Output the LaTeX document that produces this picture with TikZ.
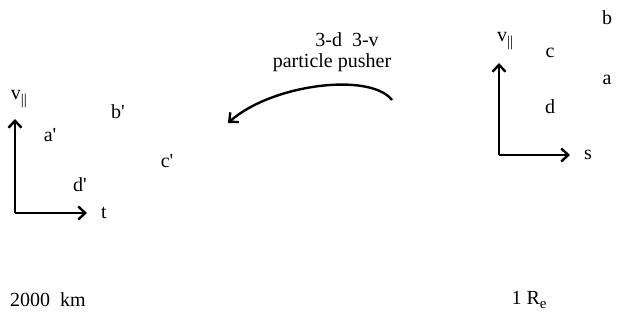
\documentclass[tikz,border=0pt]{standalone}
\usepackage{fontspec}
\setmainfont{Liberation Serif}
\usetikzlibrary{arrows.meta}
\begin{document}
\begin{tikzpicture}[x=1pt,y=-1pt,
  lbl/.style={font=\fontsize{20}{22}\selectfont, inner sep=0pt},
  tip/.style={-{Straight Barb[length=7pt,width=13pt,line width=2.4pt]}},
  axis/.style={line width=2.4pt, tip}]
\useasboundingbox (0,0) rectangle (619,320);
% left axes
\coordinate (lo) at (15,213);
\coordinate (ly) at (15,119);
\coordinate (lx) at (87,213);
\draw[axis] (lo) -- (ly);
\draw[axis] (lo) -- (lx);
\node[lbl] (lv) at (19,99) {v\raisebox{-0.5ex}{\fontsize{15}{15}\selectfont ||}};
\node[lbl] (ap) at (50,135) {a\textquotesingle};
\node[lbl] (bp) at (118,112) {b\textquotesingle};
\node[lbl] (cp) at (167,161) {c\textquotesingle};
\node[lbl] (dp) at (80,185) {d\textquotesingle};
\node[lbl] (lt) at (104,213) {t};
% right axes
\coordinate (ro) at (499,155);
\coordinate (ry) at (499,63);
\coordinate (rx) at (570,155);
\draw[axis] (ro) -- (ry);
\draw[axis] (ro) -- (rx);
\node[lbl] (rv) at (505,41) {v\raisebox{-0.5ex}{\fontsize{15}{15}\selectfont ||}};
\node[lbl] (b) at (607,18) {b};
\node[lbl] (c) at (550,53) {c};
\node[lbl] (a) at (607,80) {a};
\node[lbl] (d) at (550,107) {d};
\node[lbl] (s) at (588,155) {s};
% middle
\node[lbl] (t1) at (347,40) {3-d\ \ 3-v};
\node[lbl] (t2) at (332,63) {particle pusher};
\coordinate (as) at (392,100);
\coordinate (ae) at (228,123);
\draw[line width=2.4pt, tip]
  (as) .. controls (370,72) and (272,84) .. (ae);
% bottom
\node[lbl] (km) at (48,300) {2000\ \ km};
\node[lbl] (re) at (529,300) {1 R\raisebox{-0.45ex}{\fontsize{15}{15}\selectfont e}};
\end{tikzpicture}
\end{document}
